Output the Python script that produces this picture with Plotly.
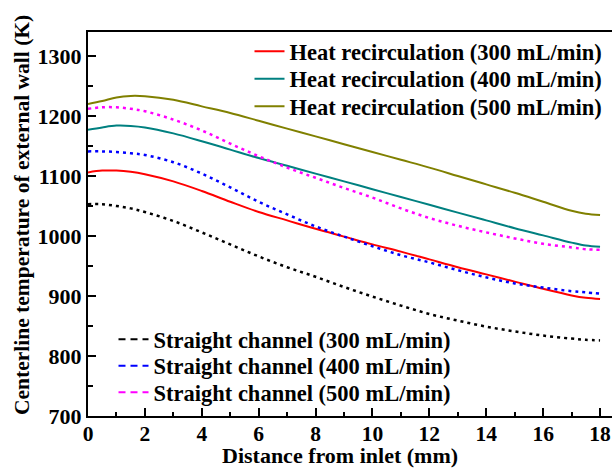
import plotly.graph_objects as go

x = [0, 0.5, 1, 1.5, 2, 3, 4, 5, 6, 7, 8, 9, 10, 11, 12, 13, 14, 15, 16, 17, 17.5, 18]

heat_300 = [1106, 1109, 1109, 1107, 1103, 1091, 1075, 1057, 1040, 1026, 1012, 999, 986, 974, 961, 948, 936, 924, 912, 901, 897, 895]
heat_400 = [1177, 1181, 1184, 1183.5, 1181, 1171, 1158, 1144, 1130, 1117, 1104, 1091, 1078, 1065, 1052, 1039, 1026, 1013, 1001, 989, 984, 982]
heat_500 = [1220, 1225, 1231, 1233.5, 1233, 1227, 1216, 1205, 1192, 1179, 1166, 1153, 1140, 1127, 1114, 1100, 1086, 1072, 1057, 1042, 1037, 1035]
straight_300 = [1053, 1053, 1050, 1046, 1040, 1025, 1006, 986, 966, 948, 932, 915, 899, 884, 870, 859, 849, 841, 834, 829, 827, 826]
straight_400 = [1141, 1141, 1140, 1138, 1135, 1123, 1104, 1081, 1057, 1036, 1016, 999, 983, 968, 956, 943, 931, 921, 914, 908, 906, 904]
straight_500 = [1212, 1214.5, 1214.5, 1212, 1208, 1194, 1176, 1154, 1133, 1114, 1097, 1080, 1064, 1046, 1030, 1017, 1006, 996, 987, 981, 978, 977]

heat_names = ["Heat recirculation (300 mL/min)", "Heat recirculation (400 mL/min)", "Heat recirculation (500 mL/min)"]
straight_names = ["Straight channel (300 mL/min)", "Straight channel (400 mL/min)", "Straight channel (500 mL/min)"]
heat_colors = ["#FF0000", "#008080", "#808000"]
straight_colors = ["#000000", "#0000FF", "#FF00FF"]

x_title = "Distance from inlet (mm)"
y_title = "Centerline temperature of external wall (K)"

FONT = "Liberation Serif"
LEG_FONT = dict(family=FONT, size=22.5, color="black", weight="bold")

fig = go.Figure()

for i, (ys, name, col) in enumerate(zip([heat_300, heat_400, heat_500], heat_names, heat_colors)):
    fig.add_trace(go.Scatter(x=x, y=ys, mode="lines", name=name, line=dict(color=col, width=2, shape="spline"),
                             legend="legend" if i == 0 else f"legend{i + 1}"))

for ys, name, col in zip([straight_300, straight_400, straight_500], straight_names, straight_colors):
    fig.add_trace(go.Scatter(x=x, y=ys, mode="lines", name=name, showlegend=False,
                             line=dict(color=col, width=2.5, shape="spline", dash="3px,4px")))

for i, (name, col) in enumerate(zip(straight_names, straight_colors)):
    fig.add_trace(go.Scatter(x=[None], y=[None], mode="lines", name=name,
                             line=dict(color=col, width=2, dash="7px,5px"), legend=f"legend{i + 4}"))

axis_common = dict(
    showgrid=False, zeroline=False, showline=True, linecolor="black", linewidth=2,
    ticks="inside", ticklen=8, tickwidth=1.5, tickcolor="black",
)

# layout geometry measured on the reference (pixels) -> paper coordinates
PLOT_L, PLOT_W, PLOT_B, PLOT_H = 88, 524, 416, 384
heat_rows = [51.5, 79, 106.5]
straight_rows = [339.5, 366, 392.5]
heat_left = 249.5
straight_left = 113.5

legends = {}
for i, row in enumerate(heat_rows):
    key = "legend" if i == 0 else f"legend{i + 1}"
    legends[key] = dict(x=(heat_left - PLOT_L) / PLOT_W, y=(PLOT_B - row) / PLOT_H, xanchor="left", yanchor="middle",
                        bgcolor="rgba(0,0,0,0)", font=LEG_FONT)
for i, row in enumerate(straight_rows):
    legends[f"legend{i + 4}"] = dict(x=(straight_left - PLOT_L) / PLOT_W, y=(PLOT_B - row) / PLOT_H, xanchor="left",
                                     yanchor="middle", bgcolor="rgba(0,0,0,0)", font=LEG_FONT)

annotations = [
    dict(text=x_title, xref="paper", yref="paper", x=(340 - PLOT_L) / PLOT_W, y=(PLOT_B - 469) / PLOT_H,
         xanchor="center", yanchor="bottom", showarrow=False, borderpad=0,
         font=dict(family=FONT, size=22, color="black", weight="bold")),
    dict(text=y_title, xref="paper", yref="paper", x=(22 - PLOT_L) / PLOT_W, y=(PLOT_B - 215) / PLOT_H,
         xanchor="center", yanchor="middle", showarrow=False, textangle=-90, borderpad=0,
         font=dict(family=FONT, size=21.5, color="black", weight="bold")),
]

fig.update_layout(
    width=612, height=469,
    margin=dict(l=88, r=0, t=32, b=53),
    paper_bgcolor="white", plot_bgcolor="white",
    font=dict(family=FONT, color="black"),
    xaxis=dict(range=[0, 18.42], tickvals=[0, 2, 4, 6, 8, 10, 12, 14, 16, 18], mirror=True,
               ticklabelstandoff=-3,
               tickfont=dict(family=FONT, size=21.5, color="black", weight="bold"),
               minor=dict(tickvals=[1, 3, 5, 7, 9, 11, 13, 15, 17], ticks="inside", ticklen=4.5, tickwidth=1.5, tickcolor="black"),
               **axis_common),
    yaxis=dict(range=[700, 1340], tickvals=[700, 800, 900, 1000, 1100, 1200, 1300], mirror=False,
               tickfont=dict(family=FONT, size=22, color="black", weight="bold"),
               minor=dict(tickvals=[750, 850, 950, 1050, 1150, 1250], ticks="inside", ticklen=4.5, tickwidth=1.5, tickcolor="black"),
               **axis_common),
    annotations=annotations,
    **legends,
)

fig.write_html("out.html")
